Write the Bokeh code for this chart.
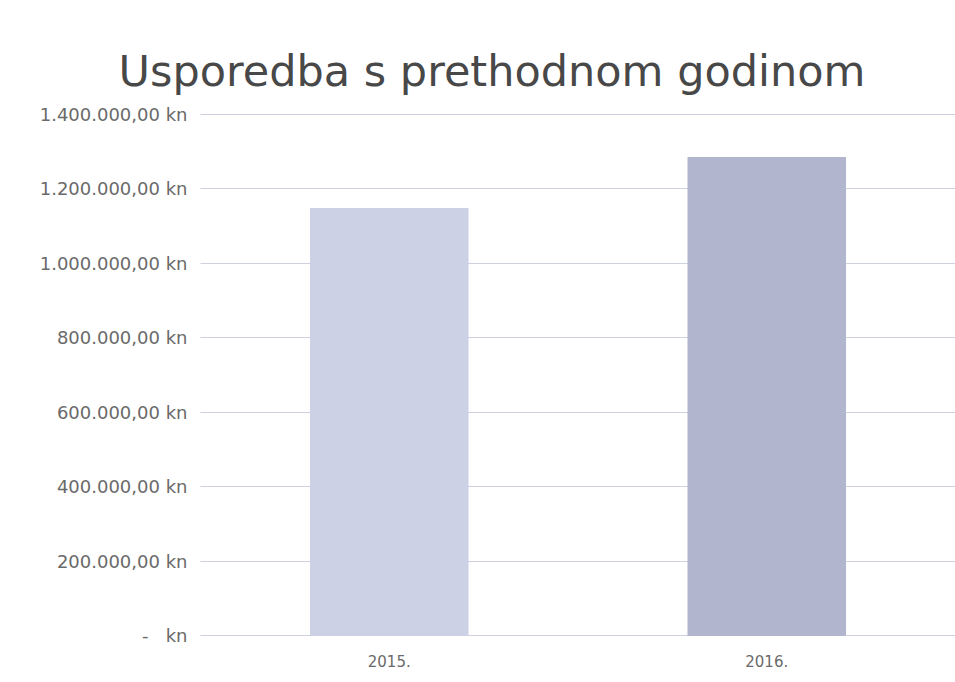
from bokeh.plotting import figure
from bokeh.models import ColumnDataSource, Range1d, FixedTicker, Title
from bokeh.embed import file_html
from bokeh.resources import INLINE

years = ["2015.", "2016."]
amounts = [1148000, 1285000]
bar_colors = ["#cdd1e6", "#b1b6ce"]
tick_values = [0, 200000, 400000, 600000, 800000, 1000000, 1200000, 1400000]
tick_labels = ["-\u00a0\u00a0\u00a0kn", "200.000,00 kn", "400.000,00 kn", "600.000,00 kn",
               "800.000,00 kn", "1.000.000,00 kn", "1.200.000,00 kn", "1.400.000,00 kn"]
title_text = "Usporedba s prethodnom godinom"

src = ColumnDataSource(dict(year=years, amount=amounts, color=bar_colors))

p = figure(x_range=years, y_range=Range1d(-1500, 1401500), width=955, height=682,
           output_backend="svg", toolbar_location=None,
           min_border_left=200, min_border_right=0, min_border_top=113, min_border_bottom=46)
p.title = Title(text=title_text, text_font="DejaVu Sans", text_font_size="43px",
                text_font_style="normal", text_color="#484848", align="left", offset=-82,
                vertical_align="top", standoff=32)
p.vbar(x="year", top="amount", width=0.42, fill_color="color", line_color=None, source=src)

p.x_range.range_padding = 0.0
p.outline_line_color = None
p.background_fill_color = "white"
p.border_fill_color = "white"

p.xgrid.grid_line_color = None
p.ygrid.grid_line_color = "#9aa0bd"
p.ygrid.grid_line_dash = "1 1"
p.ygrid.grid_line_width = 1

p.yaxis.ticker = FixedTicker(ticks=tick_values)
p.yaxis.major_label_overrides = {v: l for v, l in zip(tick_values, tick_labels)}
p.yaxis.axis_line_color = None
p.yaxis.major_tick_line_color = None
p.yaxis.minor_tick_line_color = None
p.yaxis.major_label_standoff = 7
p.yaxis.major_label_text_font = "DejaVu Sans"
p.yaxis.major_label_text_font_size = "18px"
p.yaxis.major_label_text_color = "#6a6a6a"

p.xaxis.axis_line_color = None
p.xaxis.major_tick_line_color = None
p.xaxis.minor_tick_line_color = None
p.xaxis.major_label_standoff = 12
p.xaxis.major_label_text_font = "DejaVu Sans"
p.xaxis.major_label_text_font_size = "15px"
p.xaxis.major_label_text_color = "#6a6a6a"

open("out.html", "w").write(file_html(p, INLINE))
